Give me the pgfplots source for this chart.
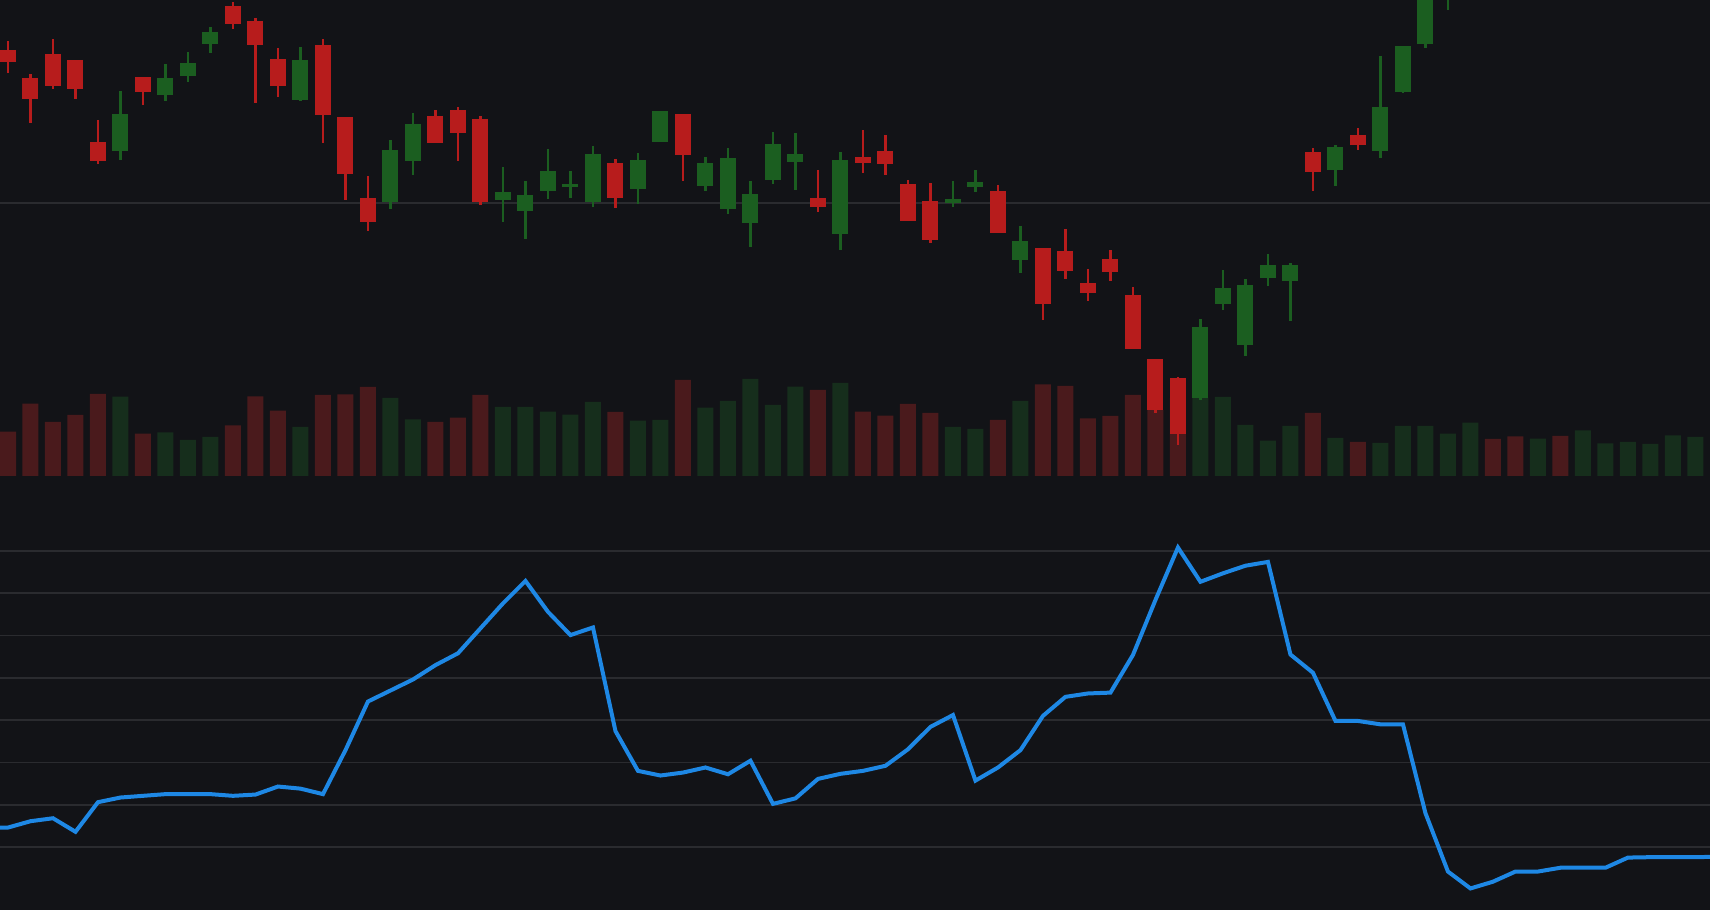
\documentclass[border=0pt]{standalone}
\usepackage{pgfplots}
\pgfplotsset{compat=1.18}
\usepackage{pgfplotstable}
\definecolor{bgc}{HTML}{121317}
\definecolor{cred}{HTML}{B71C1C}
\definecolor{cgreen}{HTML}{1B5E20}
\definecolor{vred}{HTML}{4A1A1C}
\definecolor{vgreen}{HTML}{162E1C}
\definecolor{linec}{HTML}{1E88E5}
\definecolor{gridc}{HTML}{2A2B2F}

\pgfplotstableread{
x o h l c
5 102.62 105.60 102.17 104.45
7 105.42 106.95 105.12 106.25
8 106.37 107.55 106.07 107.00
9 107.97 108.80 107.52 108.55
13 105.17 107.80 105.12 107.15
17 100.07 103.15 99.72 102.65
18 102.12 104.50 101.42 103.95
22 100.17 101.80 99.07 100.55
23 99.62 101.10 98.22 100.40
24 100.62 102.70 100.22 101.60
25 100.82 101.60 100.27 100.95
26 100.07 102.85 99.82 102.45
28 100.72 102.50 99.97 102.15
29 103.07 104.60 103.07 104.60
31 100.87 102.30 100.62 102.00
32 99.72 102.75 99.47 102.25
33 99.02 101.10 97.82 100.45
34 101.17 103.55 100.97 102.95
35 102.07 103.50 100.67 102.45
37 98.47 102.55 97.67 102.15
42 100.02 101.10 99.82 100.20
43 100.82 101.65 100.57 101.05
45 97.17 98.85 96.52 98.10
53 90.27 94.20 90.15 93.80
54 94.97 96.65 94.67 95.75
55 92.92 96.20 92.37 95.90
56 96.27 97.45 95.87 96.90
57 96.12 97.00 94.12 96.90
59 101.67 102.90 100.87 102.80
61 102.62 107.35 102.27 104.80
62 105.57 107.85 105.52 107.85
63 107.97 110.90 107.77 110.60
64 110.40 111.80 109.67 111.50
65 111.50 112.90 111.20 112.60
68 111.60 112.50 111.40 112.20
70 111.80 112.90 111.60 112.70
71 112.70 113.20 112.50 113.00
72 113.00 113.80 112.80 113.60
73 113.60 114.00 113.30 113.80
74 113.80 114.60 113.60 114.40
75 114.40 114.90 114.10 114.70
}\upc

\pgfplotstableread{
x o h l c
0 107.65 108.10 106.52 107.07
1 106.25 106.45 104.02 105.22
2 107.45 108.20 105.72 105.87
3 107.15 107.15 105.22 105.72
4 103.05 104.15 101.97 102.12
6 106.29 106.29 104.92 105.57
10 109.85 110.05 108.72 108.97
11 109.10 109.25 105.02 107.92
12 107.20 107.75 105.32 105.87
14 107.90 108.20 103.02 104.42
15 104.30 104.30 100.17 101.47
16 100.25 101.35 98.62 99.07
19 104.35 104.65 103.02 103.02
20 104.65 104.80 102.12 103.49
21 104.20 104.35 99.92 100.07
27 102.00 102.20 99.77 100.27
30 104.45 104.45 101.12 102.42
36 100.25 101.65 99.57 99.82
38 102.29 103.65 101.52 102.02
39 102.60 103.40 101.42 101.97
40 100.95 101.15 99.12 99.12
41 100.10 101.00 98.02 98.17
44 100.60 100.90 98.52 98.52
46 97.75 97.75 94.17 94.97
47 97.60 98.70 96.22 96.62
48 96.00 96.70 95.12 95.52
49 97.20 97.65 96.12 96.57
50 95.40 95.80 92.72 92.72
51 92.20 92.20 89.52 89.67
52 91.25 91.30 87.92 88.47
58 102.55 102.75 100.62 101.57
60 103.40 103.75 102.67 102.92
66 112.70 113.00 111.90 112.10
67 112.00 112.40 111.30 111.60
69 112.30 112.60 111.50 111.80
}\downc

\pgfplotstableread{
x v
0 443
1 723
2 540
3 610
4 820
6 423
10 507
11 797
12 653
14 810
15 817
16 890
19 540
20 583
21 810
27 640
30 960
36 860
38 643
39 603
40 720
41 630
44 560
46 917
47 900
48 577
49 600
50 810
51 660
52 780
58 630
60 340
66 370
67 397
69 400
}\volred

\pgfplotstableread{
x v
5 793
7 437
8 360
9 390
13 490
17 780
18 567
22 690
23 690
24 643
25 613
26 740
28 553
29 560
31 683
32 750
33 970
34 710
35 893
37 930
42 490
43 470
45 750
53 783
54 790
55 510
56 353
57 500
59 380
61 330
62 500
63 500
64 423
65 533
68 373
70 457
71 327
72 340
73 320
74 407
75 390
}\volgreen

\pgfplotstableread{
x r
-1 24.6
0 24.6
1 26.1
2 26.8
3 23.6
4 30.6
5 31.7
6 32.1
7 32.5
8 32.5
9 32.5
10 32.1
11 32.4
12 34.3
13 33.8
14 32.5
15 42.9
16 54.4
17 57.0
18 59.6
19 63.0
20 65.8
21 71.7
22 77.6
23 82.9
24 75.6
25 70.1
26 71.9
27 47.4
28 38.0
29 36.9
30 37.6
31 38.8
32 37.2
33 40.4
34 30.2
35 31.5
36 36.1
37 37.3
38 38.0
39 39.2
40 43.1
41 48.4
42 51.2
43 35.7
44 38.8
45 42.9
46 51.0
47 55.5
48 56.3
49 56.5
50 65.4
51 78.4
52 90.8
53 82.7
54 84.7
55 86.5
56 87.4
57 65.5
58 61.2
59 49.8
60 49.8
61 49.0
62 49.0
63 28.0
64 14.2
65 10.2
66 11.8
67 14.2
68 14.2
69 15.1
70 15.1
71 15.1
72 17.5
73 17.6
74 17.6
75 17.6
76 17.7
}\rsi

\pgfplotsset{
  panel/.style={
    scale only axis, width=1710pt,
    xmin=-0.35556, xmax=75.64444,
    axis line style={draw=none},
    xtick=\empty,
    yticklabels={},
    tick style={draw=none},
    clip=true,
  },
  wick/.style={color=#1, mark=none, forget plot, line width=2.6pt, -,
    quiver={u=0, v=\thisrow{h}-\thisrow{l}}},
  body/.style={color=#1, mark=none, forget plot, line width=16pt, -,
    quiver={u=0, v=\thisrow{c}-\thisrow{o}}},
}

\begin{document}
\begin{tikzpicture}
\path[use as bounding box, fill=bgc] (0pt,0pt) rectangle (1710pt,910pt);

% volume
\begin{axis}[panel, at={(0pt,434pt)}, anchor=south west, height=476pt,
  ymin=0, ymax=4760, ytick=\empty]
\addplot[ybar, bar width=16pt, bar shift=0pt, fill=vred, draw=none] table[x=x, y=v] {\volred};
\addplot[ybar, bar width=16pt, bar shift=0pt, fill=vgreen, draw=none] table[x=x, y=v] {\volgreen};
\end{axis}

% candles
\begin{axis}[panel, at={(0pt,434pt)}, anchor=south west, height=476pt,
  ymin=86.35, ymax=110.15, ytick={100}, ymajorgrids,
  major grid style={color=gridc, line width=2pt}]
\addplot[wick=cred] table[x=x, y=l] {\downc};
\addplot[body=cred] table[x=x, y=o] {\downc};
\addplot[wick=cgreen] table[x=x, y=l] {\upc};
\addplot[body=cgreen] table[x=x, y=o] {\upc};
\end{axis}

% oscillator
\begin{axis}[panel, at={(0pt,0pt)}, anchor=south west, height=434pt,
  ymin=5.11, ymax=107.71, ytick={20,30,...,90}, ymajorgrids,
  major grid style={color=gridc, line width=1.6pt}]
\addplot[color=linec, line width=4pt, mark=none, line join=miter] table[x=x, y=r] {\rsi};
\end{axis}
\end{tikzpicture}
\end{document}
